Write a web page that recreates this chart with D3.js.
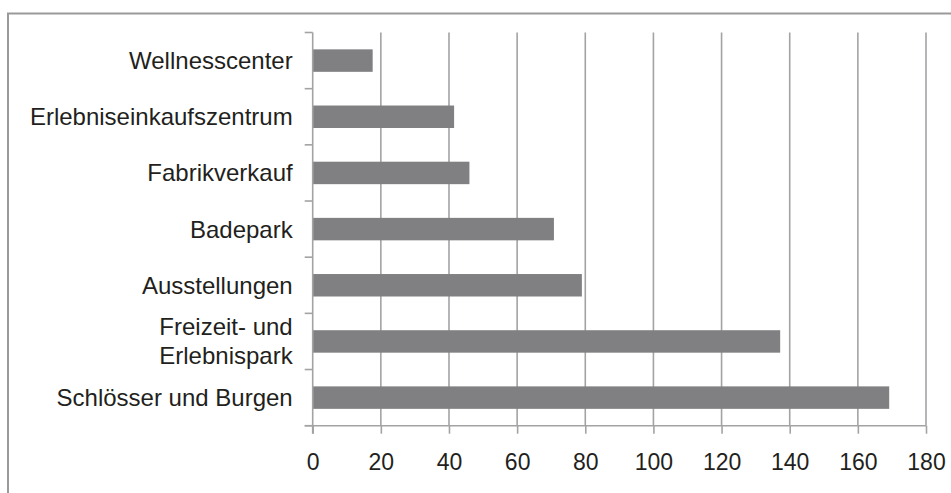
<!DOCTYPE html>
<html>
<head>
<meta charset="utf-8">
<script src="https://cdn.jsdelivr.net/npm/d3@7"></script>
<style>
  html, body { margin: 0; padding: 0; background: #fff; }
  svg { display: block; }
  text { font-family: "Liberation Sans", Arial, sans-serif; fill: #231f20; }
</style>
</head>
<body>
<svg id="chart" width="951" height="493"></svg>
<script>
// Categories, listed top to bottom
const categories = [
  "Wellnesscenter",
  "Erlebniseinkaufszentrum",
  "Fabrikverkauf",
  "Badepark",
  "Ausstellungen",
  "Freizeit- und\nErlebnispark",
  "Schlösser und Burgen"
];
const values = [17.6, 41.5, 46, 70.8, 79, 137.2, 169.2];
const tickValues = [0, 20, 40, 60, 80, 100, 120, 140, 160, 180];

const svg = d3.select("#chart");
const W = 951, H = 493;
const plot = { left: 312.7, right: 926, top: 32.5, bottom: 425.7 };
const gridColor = "#a3a3a5";
const barColor = "#808083";

// Outer frame (only top and left edges fall inside the page)
svg.append("rect")
  .attr("x", 8).attr("y", 13.5)
  .attr("width", W + 20).attr("height", H + 20)
  .attr("fill", "none")
  .attr("stroke", "#9a9a9c")
  .attr("stroke-width", 2);

const x = d3.scaleLinear().domain([0, 180]).range([plot.left, plot.right]);
const y = d3.scaleBand()
  .domain(categories)
  .range([plot.top, plot.bottom])
  .paddingInner(0.6)
  .paddingOuter(0.3);

// Vertical gridlines
svg.append("g").selectAll("line")
  .data(tickValues.filter(v => v > 0))
  .join("line")
  .attr("x1", d => x(d)).attr("x2", d => x(d))
  .attr("y1", plot.top).attr("y2", plot.bottom)
  .attr("stroke", gridColor)
  .attr("stroke-width", 1.6);

// Bars
svg.append("g").selectAll("rect")
  .data(categories.map((c, i) => ({ c, v: values[i] })))
  .join("rect")
  .attr("x", x(0))
  .attr("y", d => y(d.c))
  .attr("width", d => x(d.v) - x(0))
  .attr("height", y.bandwidth())
  .attr("fill", barColor);

// X axis
const xAxis = d3.axisBottom(x)
  .tickValues(tickValues)
  .tickSize(8)
  .tickPadding(20)
  .tickSizeOuter(0);
const gx = svg.append("g")
  .attr("transform", `translate(0,${plot.bottom})`)
  .call(xAxis);
gx.select(".domain").remove();
gx.selectAll(".tick line").attr("stroke", gridColor).attr("stroke-width", 1.6);
gx.selectAll(".tick text")
  .attr("font-size", 23)
  .attr("fill", "#231f20")
  .attr("font-family", "Liberation Sans, Arial, sans-serif");

// Axis lines
svg.append("line")
  .attr("x1", plot.left - 8).attr("x2", plot.right)
  .attr("y1", plot.bottom).attr("y2", plot.bottom)
  .attr("stroke", gridColor).attr("stroke-width", 1.6);
svg.append("line")
  .attr("x1", plot.left).attr("x2", plot.left)
  .attr("y1", plot.top).attr("y2", plot.bottom + 8)
  .attr("stroke", gridColor).attr("stroke-width", 1.6);

// Category boundary ticks on the y axis
const boundaries = categories.map(c => y(c) - y.step() * y.paddingInner() / 2);
boundaries.push(plot.bottom);
svg.append("g").selectAll("line")
  .data(boundaries)
  .join("line")
  .attr("x1", plot.left - 8).attr("x2", plot.left)
  .attr("y1", d => d).attr("y2", d => d)
  .attr("stroke", gridColor).attr("stroke-width", 1.6);

// Category labels
const lineH = 29;
svg.append("g").selectAll("text")
  .data(categories)
  .join("text")
  .attr("text-anchor", "end")
  .attr("font-size", 24)
  .each(function (c) {
    const lines = c.split("\n");
    const cy = y(c) + y.bandwidth() / 2;
    const t = d3.select(this);
    lines.forEach((ln, i) => {
      t.append("tspan")
        .attr("x", plot.left - 20)
        .attr("y", cy + (i - (lines.length - 1) / 2) * lineH)
        .attr("dy", "0.35em")
        .text(ln);
    });
  });
</script>
</body>
</html>
